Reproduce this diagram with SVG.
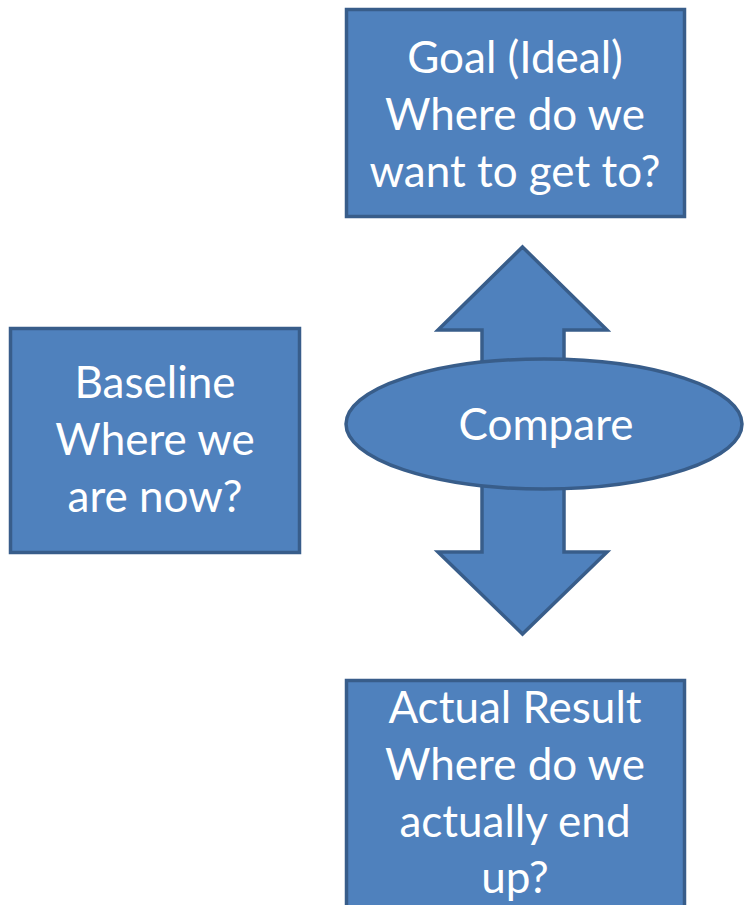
<svg xmlns="http://www.w3.org/2000/svg" width="745" height="905" viewBox="0 0 745 905">
<style>
.box{fill:#4F81BD;stroke:#385D8A;stroke-width:3.5}
.t{fill:#FFFFFF;font-family:Lato,"Open Sans","Noto Sans",sans-serif;font-size:44px;text-anchor:middle}
</style>
<rect width="745" height="905" fill="#FFFFFF"/>
<g id="connectors">
<path class="box" d="M522.5,247 L607,330 L564,330 L564,552 L607,552 L522.5,634 L438,552 L482,552 L482,330 L438,330 Z"/>
</g>
<g id="goal">
<rect class="box" x="346.5" y="9.5" width="338" height="207"/>
<text class="t" x="515" y="73">Goal (Ideal)</text>
<text class="t" x="515" y="130">Where do we</text>
<text class="t" x="515" y="187">want to get to?</text>
</g>
<g id="baseline">
<rect class="box" x="10.5" y="328.5" width="289" height="224"/>
<text class="t" x="155" y="398">Baseline</text>
<text class="t" x="155" y="455">Where we</text>
<text class="t" x="155" y="512">are now?</text>
</g>
<g id="compare">
<ellipse class="box" cx="544" cy="424" rx="198" ry="65"/>
<text class="t" x="546" y="440">Compare</text>
</g>
<g id="actual">
<rect class="box" x="346.5" y="680.5" width="338" height="240"/>
<text class="t" x="515" y="723">Actual Result</text>
<text class="t" x="515" y="780">Where do we</text>
<text class="t" x="515" y="837">actually end</text>
<text class="t" x="515" y="893">up?</text>
</g>
</svg>
